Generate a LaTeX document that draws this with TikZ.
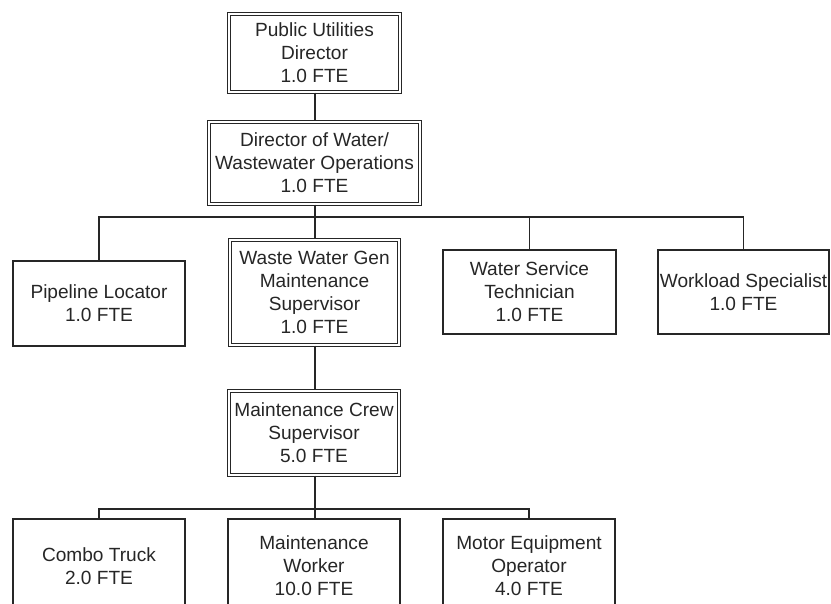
\documentclass[tikz,border=0pt]{standalone}
\usepackage{fontspec}
\setmainfont{Liberation Sans}
\definecolor{ink}{HTML}{262626}
\begin{document}
\begin{tikzpicture}[x=1pt,y=-1pt,
  box/.style={draw=ink, line width=1.2pt, text=ink, align=center, inner sep=0pt,
              text depth=0pt, font=\fontsize{19.1pt}{23pt}\selectfont},
  dbox/.style={box, double=white, double distance=2.6pt, line width=1.1pt},
  link/.style={draw=ink, line width=1.2pt}]
\useasboundingbox (0,0) rectangle (831,604);
\clip (0,0) rectangle (831,604);

% top of the chart
\node[dbox, minimum width=171, minimum height=78] (pud) at (314.5,53)
  {Public Utilities\\Director\\1.0 FTE};
\node[dbox, minimum width=211, minimum height=82] (dwo) at (314.5,163)
  {Director of Water/\\Wastewater Operations\\1.0 FTE};

% second level
\node[box, minimum width=172, minimum height=85] (pl) at (99,303.5)
  {Pipeline Locator\\1.0 FTE};
\node[dbox, minimum width=169, minimum height=105] (wwg) at (314.5,292.5)
  {Waste Water Gen\\Maintenance\\Supervisor\\1.0 FTE};
\node[box, minimum width=173, minimum height=84] (wst) at (529.5,292)
  {Water Service\\Technician\\1.0 FTE};
\node[box, minimum width=171, minimum height=84] (wls) at (743.5,292)
  {Workload Specialist\\1.0 FTE};

% crew level
\node[dbox, minimum width=170, minimum height=84] (mcs) at (314,433)
  {Maintenance Crew\\Supervisor\\5.0 FTE};

% bottom row (runs past the lower edge)
\node[box, minimum width=172, minimum height=94] (ct) at (99,566)
  {Combo Truck\\2.0 FTE};
\node[box, minimum width=172, minimum height=94] (mw) at (314,566)
  {Maintenance\\Worker\\10.0 FTE};
\node[box, minimum width=172, minimum height=94] (meo) at (529,566)
  {Motor Equipment\\Operator\\4.0 FTE};

% bus lines
\coordinate (busA) at (315,217);
\coordinate (busB) at (315,509);

% connectors
\draw[link] (pud.south -| busA) -- (dwo.north -| busA);
\draw[link] (dwo.south -| busA) -- (busA);
\draw[link] (pl.north) |- (busA) -| (wls.north);
\draw[link] (busA) -- (wwg.north -| busA);
\draw[link] (wst.north) -- (wst.north |- busA);
\draw[link] (wwg.south -| busA) -- (mcs.north -| busA);
\draw[link] (mcs.south -| busB) -- (busB);
\draw[link] (ct.north) |- (busB) -| (meo.north);
\draw[link] (busB) -- (mw.north -| busB);
\end{tikzpicture}
\end{document}
